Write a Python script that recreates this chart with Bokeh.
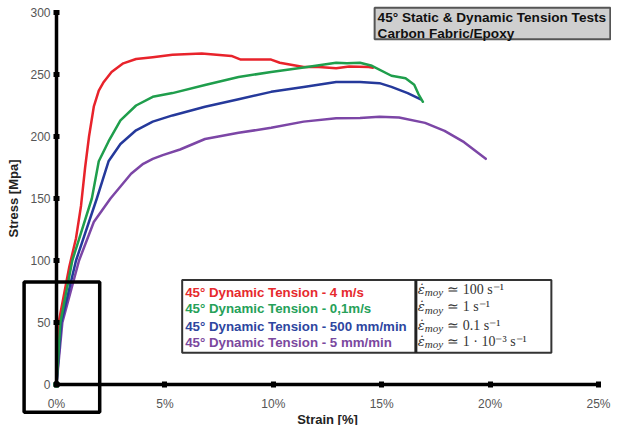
from bokeh.plotting import figure
from bokeh.models import Range1d, LinearAxis, FixedTicker, ColumnDataSource
from bokeh.core.properties import value
from bokeh.embed import file_html
from bokeh.resources import INLINE

# ---------------- data (strain in %, stress in MPa) ----------------
red_strain = [0, 0.1, 0.59, 0.9, 1.13, 1.32, 1.5, 1.72, 1.95, 2.18, 2.54, 3.08, 3.67, 4.44,
              5.35, 6.7, 8.07, 8.5, 9.9, 10.3, 11.4, 12.1, 12.9, 13.5, 14.4, 14.6]
red_stress = [0, 50, 95, 118, 144, 175, 200, 224, 237, 244, 252, 259, 262.5, 264,
              266, 267, 265, 262, 262, 259.5, 256, 256, 255, 256.5, 256, 255.5]

green_strain = [0, 0.18, 0.73, 1.63, 1.95, 2.4, 2.95, 3.67, 4.44, 5.35, 6.85, 8.4, 9.9,
                11.4, 12.9, 13.4, 14.0, 14.55, 15.45, 16.1, 16.5, 16.7, 16.9]
green_stress = [0, 50, 100, 150, 180, 196, 213, 225, 232, 235, 241.5, 248, 252,
                255.6, 259.5, 259, 259.5, 257, 249, 247, 241.7, 234, 228]

blue_strain = [0, 0.22, 0.9, 1.86, 2.4, 2.95, 3.67, 4.44, 5.35, 6.85, 8.4, 9.9, 11.4,
               12.9, 14.0, 14.9, 15.45, 16.2, 16.8]
blue_stress = [0, 50, 100, 150, 180, 194, 205, 212, 217, 224, 230, 236, 240,
               244, 244, 243, 240, 235, 230]

purple_strain = [0, 0.27, 1.04, 1.72, 2.49, 3.44, 4.0, 4.44, 4.9, 5.7, 6.85, 8.4, 9.9,
                 11.4, 12.9, 14.0, 14.9, 15.8, 17.0, 17.9, 18.8, 19.8]
purple_stress = [0, 50, 100, 131, 150, 170, 178, 182, 185, 189.5, 198, 203, 207,
                 212, 214.7, 215, 216, 215.4, 211, 204.6, 195.4, 182]

x_ticks = [0, 5, 10, 15, 20, 25]
x_tick_labels = ["0%", "5%", "10%", "15%", "20%", "25%"]
y_ticks = [0, 50, 100, 150, 200, 250, 300]

legend_labels = ["45° Dynamic Tension - 4 m/s",
                 "45° Dynamic Tension - 0,1m/s",
                 "45° Dynamic Tension - 500 mm/min",
                 "45° Dynamic Tension - 5 mm/min"]
rate_values = ["≃ 100 s⁻¹", "≃ 1 s⁻¹", "≃ 0.1 s⁻¹", "≃ 1 · 10⁻³ s⁻¹"]
title_lines = ["45° Static & Dynamic Tension Tests", "Carbon Fabric/Epoxy"]

# ---------------- layout ----------------
W, H = 611, 425
X0, X25 = 56.0, 598.0        # canvas x of 0 % and 25 %
Y0, Y300 = 384.0, 12.0       # canvas y of 0 MPa and 300 MPa
PXS = (X25 - X0) / 25
PYS = (Y0 - Y300) / 300
XMIN, XMAX = (0 - X0) / PXS, (W - X0) / PXS
YMIN, YMAX = -(H - Y0) / PYS, Y0 / PYS


def ref(rx, ry):
    """reference-picture pixel -> data coordinates"""
    cx = X0 + (rx - 62) * (X25 - X0) / 552
    cy = Y300 + (ry - 15) * (Y0 - Y300) / 388
    return (cx - X0) / PXS, (Y0 - cy) / PYS


RED, GREEN, BLUE, PURPLE = "#e8232b", "#1f9e4c", "#25399b", "#7c46a6"
text_colors = ["#e62a2e", "#26a159", "#2e46a0", "#7b489e"]

p = figure(width=W, height=H, x_range=Range1d(XMIN, XMAX), y_range=Range1d(YMIN, YMAX),
           x_axis_type=None, y_axis_type=None, output_backend="svg",
           toolbar_location=None, min_border=0, outline_line_color=None)
p.background_fill_color = "white"

common = dict(axis_line_color="black", axis_line_width=3.5,
              major_tick_line_color="black", major_tick_line_width=5,
              major_tick_in=3, major_tick_out=3, minor_tick_line_color=None,
              major_label_text_font="Liberation Sans", major_label_text_font_size="12px",
              major_label_text_color="#555555",
              axis_label_text_font="Liberation Sans", axis_label_text_font_style="bold",
              axis_label_text_font_size="13px", axis_label_text_color="#222222")

xaxis = LinearAxis(fixed_location=0, bounds=(0, 25), ticker=FixedTicker(ticks=x_ticks),
                   axis_label="Strain [%]", axis_label_standoff=-2,
                   major_label_standoff=9, **common)
xaxis.major_label_overrides = {t: l for t, l in zip(x_ticks, x_tick_labels)}
yaxis = LinearAxis(fixed_location=0, bounds=(0, 300), ticker=FixedTicker(ticks=y_ticks),
                   axis_label="Stress [Mpa]", axis_label_standoff=6,
                   major_label_standoff=3, **common)
p.add_layout(xaxis, "below")
p.add_layout(yaxis, "left")

# curves
for xs, ys, c in [(purple_strain, purple_stress, PURPLE), (blue_strain, blue_stress, BLUE),
                  (red_strain, red_stress, RED), (green_strain, green_stress, GREEN)]:
    p.line(xs, ys, line_color=c, line_width=2.5, line_join="round", line_cap="round")
p.scatter(green_strain[:1], green_stress[:1], size=6, color=GREEN)

# black highlight rectangle near origin
l, t = ref(29, 296)
r, b = ref(106, 432)
p.quad(left=[l], right=[r], top=[t], bottom=[b], fill_color=None,
       line_color="black", line_width=3.5)

# title box
l, t = ref(386, 10)
r, b = ref(626, 43)
p.quad(left=[l], right=[r], top=[t], bottom=[b], fill_color="#cfcfcf",
       line_color="#555555", line_width=2)
p.text(x=[ref(389, 0)[0]] * 2, y=[ref(0, 20)[1], ref(0, 37)[1]], text=title_lines,
       text_font=value("Liberation Sans"), text_font_style="bold",
       text_font_size="13.6px", text_color="#111111",
       text_baseline="middle", text_align="left")

# legend box
l, t = ref(190, 294)
r, b = ref(566, 370)
p.quad(left=[l], right=[r], top=[t], bottom=[b], fill_color="white",
       line_color="#333333", line_width=2)
dx, _ = ref(428, 0)
p.segment(x0=[dx], y0=[t], x1=[dx], y1=[b], line_color="#222222", line_width=3)

leg_y_ref = [307, 324, 342, 359]
rate_y_ref = [304, 322, 341, 358]
src = ColumnDataSource(dict(x=[ref(193, y)[0] for y in leg_y_ref],
                            y=[ref(193, y)[1] for y in leg_y_ref],
                            text=legend_labels, color=text_colors))
p.text(x="x", y="y", text="text", text_color="color", source=src,
       text_font=value("Liberation Sans"), text_font_style="bold",
       text_font_size="13.3px", text_baseline="middle", text_align="left")

n = len(rate_values)
p.text(x=[ref(430, 0)[0]] * n, y=[ref(0, y)[1] for y in rate_y_ref], text=["ε̇"] * n,
       text_font=value("DejaVu Serif"), text_font_style="italic",
       text_font_size="13px", text_color="#333333", text_baseline="middle")
p.text(x=[ref(437, 0)[0]] * n, y=[ref(0, y + 3)[1] for y in rate_y_ref], text=["moy"] * n,
       text_font=value("Liberation Serif"), text_font_style="italic",
       text_font_size="11px", text_color="#333333", text_baseline="middle")
p.text(x=[ref(460, 0)[0]] * n, y=[ref(0, y)[1] for y in rate_y_ref], text=rate_values,
       text_font=value("Liberation Serif"), text_font_size="14px", text_color="#333333",
       text_baseline="middle")

open("out.html", "w").write(file_html(p, INLINE))
